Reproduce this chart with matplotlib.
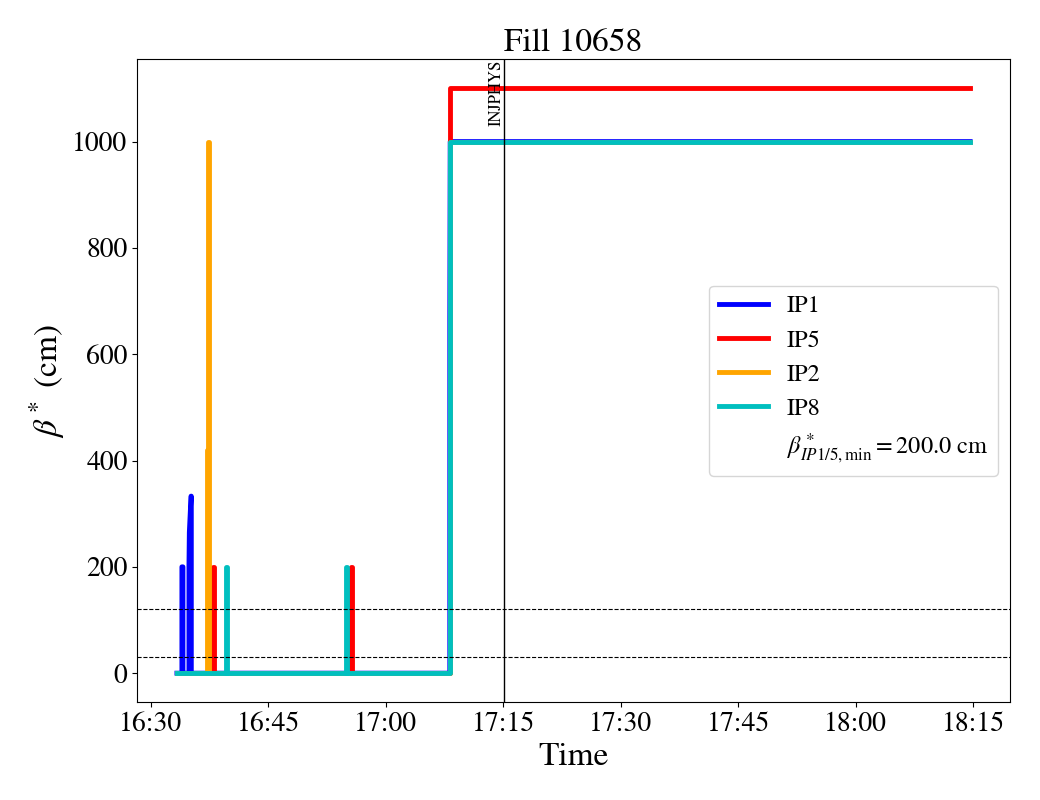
import matplotlib

matplotlib.use("Agg")
import matplotlib.dates as mdates
import matplotlib.pyplot as plt
import pandas as pd

plt.rcParams["font.family"] = "STIXGeneral"
plt.rcParams["mathtext.fontset"] = "stix"

DAY = "2025-05-25 "

# (time, beta* in cm) points
ip1_t = ["16:33:20", "16:33:58", "16:33:58", "16:34:06", "16:34:06",
         "16:34:52", "16:34:52", "16:34:55", "16:35:08", "16:35:10",
         "16:35:10", "17:08:10", "17:08:10", "17:08:13", "18:14:36"]
ip1_v = [0, 0, 200, 200, 0,
         0, 200, 265, 333, 333,
         0, 0, 667, 1000, 1000]

ip5_t = ["16:33:20", "16:37:58", "16:37:58", "16:38:05", "16:38:05",
         "16:55:36", "16:55:36", "16:55:43", "16:55:43", "17:08:12",
         "17:08:12", "18:14:36"]
ip5_v = [0, 0, 200, 200, 0,
         0, 200, 200, 0, 0,
         1100, 1100]

ip2_t = ["16:33:20", "16:37:14", "16:37:14", "16:37:17", "16:37:17",
         "16:37:24", "16:37:24", "17:08:10", "17:08:10", "18:14:36"]
ip2_v = [0, 0, 420, 420, 1000,
         1000, 0, 0, 1000, 1000]

ip8_t = ["16:33:20", "16:39:36", "16:39:36", "16:39:43", "16:39:43",
         "16:54:58", "16:54:58", "16:55:05", "16:55:05", "17:08:10",
         "17:08:10", "18:14:36"]
ip8_v = [0, 0, 200, 200, 0,
         0, 200, 200, 0, 0,
         1000, 1000]

injphys_time = "17:15:08"
dashed_levels = [120, 30]
beta_min = 200.0


def _ts(times):
    return pd.to_datetime([DAY + t for t in times])


fig, ax = plt.subplots(figsize=(10.4, 8), dpi=100)
fig.subplots_adjust(left=0.132, right=0.971, top=0.926, bottom=0.122)

lw = 3.5
ax.plot(_ts(ip1_t), ip1_v, color="blue", lw=lw, label="IP1")
ax.plot(_ts(ip5_t), ip5_v, color="red", lw=lw, label="IP5")
ax.plot(_ts(ip2_t), ip2_v, color="orange", lw=lw, label="IP2")
ax.plot(_ts(ip8_t), ip8_v, color="c", lw=lw, label="IP8")
ax.plot([], [], " ",
        label=r"$\beta^*_{IP1/5,\min}=$" + f"{beta_min:.1f} cm")

for lvl in dashed_levels:
    ax.axhline(lvl, color="black", ls="--", lw=0.8)

t_inj = pd.Timestamp(DAY + injphys_time)
ax.axvline(t_inj, color="black", lw=1)
ax.text(t_inj, ax.get_ylim()[1], "INJPHYS", rotation=90,
        ha="right", va="top", fontsize=12)

ax.xaxis.set_major_locator(mdates.MinuteLocator(byminute=[0, 15, 30, 45]))
ax.xaxis.set_major_formatter(mdates.DateFormatter("%H:%M"))
ax.tick_params(labelsize=20)
ax.set_xlabel("Time", fontsize=24)
ax.set_ylabel(r"$\beta^*$ (cm)", fontsize=24)
ax.set_title("Fill 10658", fontsize=24)
ax.legend(loc="center right", fontsize=17.5)

fig.savefig("out.png", dpi=100)
